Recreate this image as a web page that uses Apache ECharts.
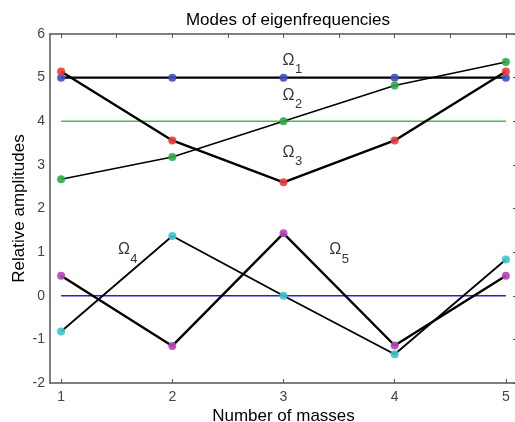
<!DOCTYPE html>
<html>
<head>
<meta charset="utf-8">
<script src="https://cdn.jsdelivr.net/npm/echarts@6/dist/echarts.min.js"></script>
<style>
html,body{margin:0;padding:0;background:#fff;}
#chart{width:515px;height:422px;}
</style>
</head>
<body>
<div id="chart"></div>
<script>
// ---- data ----
var masses = [1, 2, 3, 4, 5];
var omega1 = [5, 5, 5, 5, 5];
var omega2 = [2.67, 3.18, 4.0, 4.82, 5.36];
var omega3 = [5.14, 3.56, 2.6, 3.56, 5.14];
var omega4 = [-0.82, 1.37, 0, -1.34, 0.83];
var omega5 = [0.46, -1.15, 1.43, -1.14, 0.46];
var modeNames = ['1', '2', '3', '4', '5'];
var labelX = [3.045, 3.045, 3.045, 1.565, 3.466];
var labelY = [5.39, 4.59, 3.29, 1.05, 1.05];
var refLineY = [4, 0];
var xTickLabels = [1, 2, 3, 4, 5];
var xTopTicks = [1, 1.5, 2, 2.5, 3, 3.5, 4, 4.5, 5];

var font = '"Liberation Sans", Arial, sans-serif';
var modes = [omega1, omega2, omega3, omega4, omega5];
var markerColors = ['#3f4fc4', '#2fa84a', '#ec3a3a', '#3cc4cc', '#b444b8'];
var lineWidths = [2.4, 1.6, 2.4, 1.8, 2.4];
var refColors = ['#3cc43c', '#2424cc'];

function pts(ys) { return masses.map(function (m, i) { return [m, ys[i]]; }); }

var series = [];
refLineY.forEach(function (y, i) {
  series.push({
    type: 'line', z: 1, symbol: 'none', silent: true,
    data: [[masses[0], y], [masses[masses.length - 1], y]],
    lineStyle: { color: refColors[i], width: 1.3 }
  });
});
modes.forEach(function (ys, i) {
  series.push({
    type: 'line', z: 2, symbol: 'none', silent: true,
    data: pts(ys),
    lineStyle: { color: '#000', width: lineWidths[i] }
  });
});
modes.forEach(function (ys, i) {
  series.push({
    type: 'scatter', z: 3, symbol: 'circle', symbolSize: 8, silent: true,
    data: pts(ys),
    itemStyle: { color: markerColors[i], opacity: 0.9 }
  });
});
var labelPts = labelX.map(function (x, i) { return [x, labelY[i], modeNames[i]]; });
series.push({
  type: 'scatter', z: 4, symbolSize: 0, silent: true,
  data: labelPts,
  label: {
    show: true, position: 'inside', align: 'center', verticalAlign: 'middle',
    formatter: '\u03A9', fontFamily: font, fontSize: 16, color: '#000'
  }
});
series.push({
  type: 'scatter', z: 4, symbolSize: 0, silent: true,
  data: labelPts,
  label: {
    show: true, position: 'inside', align: 'center', verticalAlign: 'middle', offset: [10, 9],
    formatter: function (p) { return p.data[2]; }, fontFamily: font, fontSize: 13, color: '#000'
  }
});

var axisColor = '#555';
var option = {
  animation: false,
  backgroundColor: '#fff',
  title: {
    text: 'Modes of eigenfrequencies', left: 283, top: 7, textAlign: 'center',
    textStyle: { fontFamily: font, fontSize: 17, fontWeight: 'normal', color: '#000' }
  },
  grid: { left: 50, top: 34, width: 467, bottom: 39, containLabel: false, outerBoundsMode: 'none' },
  xAxis: [{
    type: 'value', position: 'bottom', min: 0.9, max: 5.1,
    name: 'Number of masses', nameLocation: 'middle', nameGap: 25, nameMoveOverlap: false,
    nameTextStyle: { fontFamily: font, fontSize: 17, color: '#000' },
    axisLine: { show: true, onZero: false, lineStyle: { color: axisColor, width: 1.5 } },
    axisTick: { show: true, inside: true, length: 4, customValues: xTickLabels, lineStyle: { color: axisColor } },
    axisLabel: { customValues: xTickLabels, fontFamily: font, fontSize: 14, color: '#444', margin: 7 },
    splitLine: { show: false }
  }, {
    type: 'value', position: 'top', min: 0.9, max: 5.1,
    axisLine: { show: true, onZero: false, lineStyle: { color: axisColor, width: 1.5 } },
    axisTick: { show: true, inside: true, length: 4, customValues: xTopTicks, lineStyle: { color: axisColor } },
    axisLabel: { show: false },
    splitLine: { show: false }
  }],
  yAxis: [{
    type: 'value', position: 'left', min: -2, max: 6, interval: 1,
    name: 'Relative amplitudes', nameLocation: 'middle', nameGap: 22, nameRotate: 90, nameMoveOverlap: false,
    nameTextStyle: { fontFamily: font, fontSize: 17, color: '#000' },
    axisLine: { show: true, onZero: false, lineStyle: { color: axisColor, width: 1.5 } },
    axisTick: { show: false },
    axisLabel: { fontFamily: font, fontSize: 14, color: '#444', margin: 5 },
    splitLine: { show: false }
  }, {
    type: 'value', position: 'right', min: -2, max: 6, interval: 1,
    axisLine: { show: true, onZero: false, lineStyle: { color: axisColor, width: 1.5 } },
    axisTick: { show: true, inside: true, length: 4, lineStyle: { color: axisColor } },
    axisLabel: { show: false },
    splitLine: { show: false }
  }],
  series: series
};
var chart = echarts.init(document.getElementById('chart'), null, { renderer: 'canvas' });
chart.setOption(option);
</script>
</body>
</html>
